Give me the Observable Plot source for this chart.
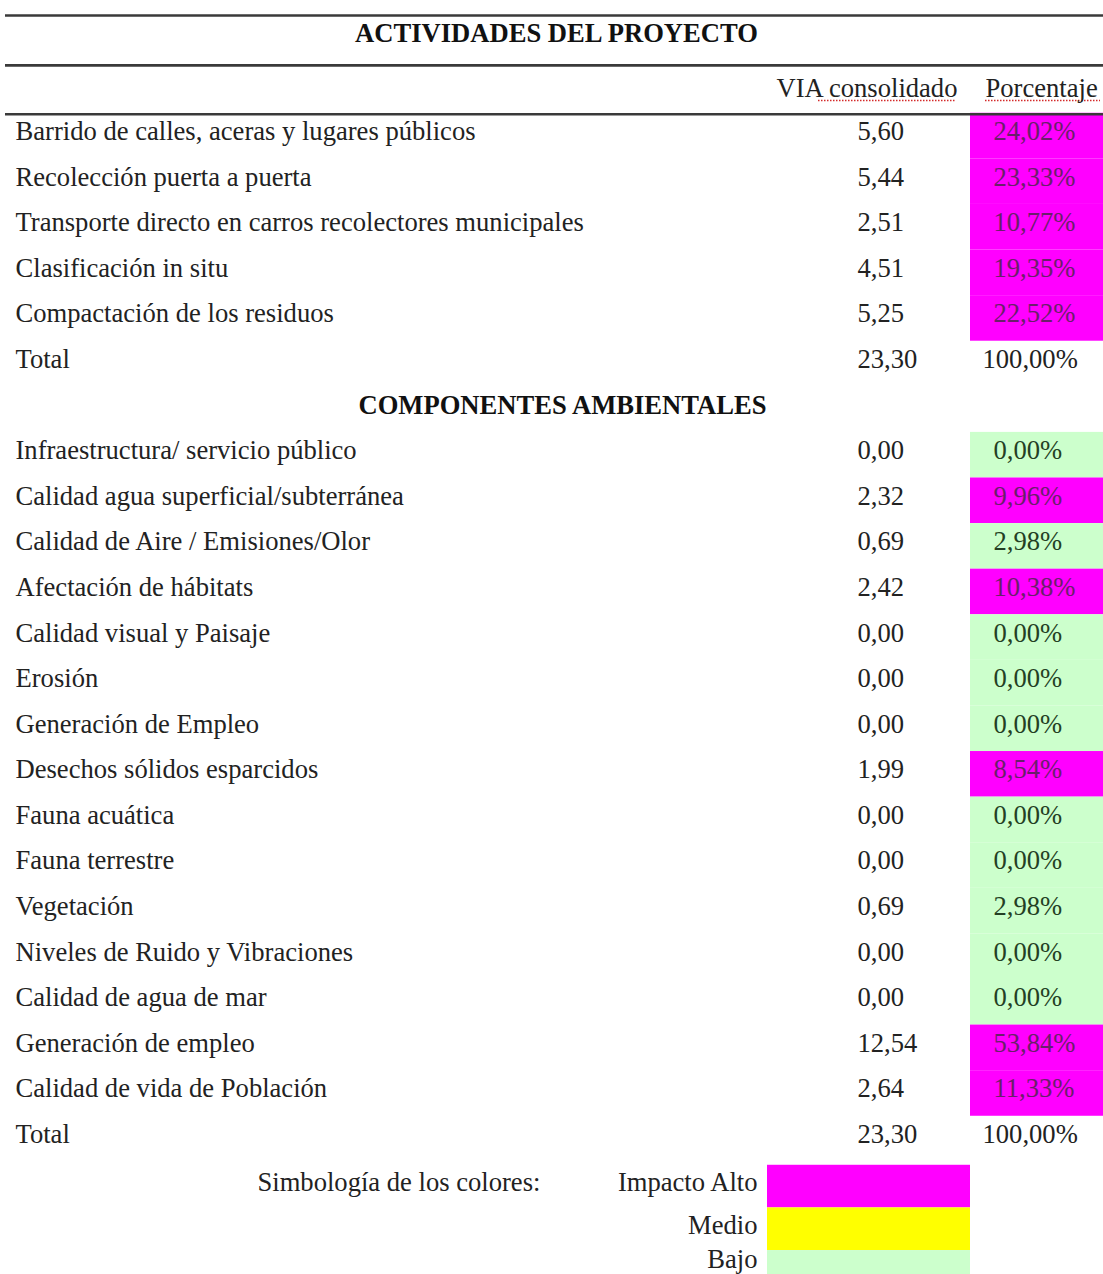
<!DOCTYPE html>
<html>
<head>
<meta charset="utf-8">
<script src="https://cdn.jsdelivr.net/npm/d3@7"></script>
<script src="https://cdn.jsdelivr.net/npm/@observablehq/plot@0.6"></script>
<style>
  html, body { margin: 0; padding: 0; background: #ffffff; }
  #chart svg { display: block; }
</style>
</head>
<body>
<div id="chart"></div>
<script>
// ---------- data ----------
const tituloActividades = "ACTIVIDADES DEL PROYECTO";
const tituloComponentes = "COMPONENTES AMBIENTALES";
const encabezados = ["VIA consolidado", "Porcentaje"];

const actividades = [
  "Barrido de calles, aceras y lugares públicos",
  "Recolección puerta a puerta",
  "Transporte directo en carros recolectores municipales",
  "Clasificación in situ",
  "Compactación de los residuos"
];
const viaActividades = [5.60, 5.44, 2.51, 4.51, 5.25];
const pctActividades = [24.02, 23.33, 10.77, 19.35, 22.52];
const totalActividades = [23.30, 100.00];

const componentes = [
  "Infraestructura/ servicio público",
  "Calidad agua superficial/subterránea",
  "Calidad de Aire / Emisiones/Olor",
  "Afectación de hábitats",
  "Calidad visual y Paisaje",
  "Erosión",
  "Generación de Empleo",
  "Desechos sólidos esparcidos",
  "Fauna acuática",
  "Fauna terrestre",
  "Vegetación",
  "Niveles de Ruido y Vibraciones",
  "Calidad de agua de mar",
  "Generación de empleo",
  "Calidad de vida de Población"
];
const viaComponentes = [0.00, 2.32, 0.69, 2.42, 0.00, 0.00, 0.00, 1.99, 0.00, 0.00, 0.69, 0.00, 0.00, 12.54, 2.64];
const pctComponentes = [0.00, 9.96, 2.98, 10.38, 0.00, 0.00, 0.00, 8.54, 0.00, 0.00, 2.98, 0.00, 0.00, 53.84, 11.33];
const totalComponentes = [23.30, 100.00];

const etiquetaTotal = "Total";
const tituloLeyenda = "Simbología de los colores:";
const nivelesLeyenda = ["Impacto Alto", "Medio", "Bajo"];
const coloresLeyenda = ["#ff00ff", "#ffff00", "#ccffcc"];

// ---------- table rows ----------
const fmt = v => v.toFixed(2).replace(".", ",");
const nivel = p => (p >= 5 ? "Impacto Alto" : "Bajo");
const colorDe = n => coloresLeyenda[nivelesLeyenda.indexOf(n)];

const filas = [];
actividades.forEach((a, i) => filas.push({k: filas.length, label: a, via: viaActividades[i], pct: pctActividades[i], tipo: "dato"}));
filas.push({k: filas.length, label: etiquetaTotal, via: totalActividades[0], pct: totalActividades[1], tipo: "total"});
filas.push({k: filas.length, label: tituloComponentes, tipo: "seccion"});
componentes.forEach((c, i) => filas.push({k: filas.length, label: c, via: viaComponentes[i], pct: pctComponentes[i], tipo: "dato"}));
filas.push({k: filas.length, label: etiquetaTotal, via: totalComponentes[0], pct: totalComponentes[1], tipo: "total"});

const datos = filas.filter(f => f.tipo === "dato");
const conValor = filas.filter(f => f.tipo !== "seccion");
const seccion = filas.filter(f => f.tipo === "seccion");

// layout (row units on y, px columns on x)
const FS = 26.6;
const colLabel = 15, colVia = 857, colPct = 993, colPctTotal = 982, cellX1 = 970, cellX2 = 1103;
const rowTitle = -2.15, rowHeader = -0.95;
const rules = [-2.545, -1.45, -0.38];
const legendTop = 22.675, legendStep = 0.935;

const leyenda = nivelesLeyenda.map((n, i) => ({n, i, fill: coloresLeyenda[i]}));
// text row for each legend entry (last one nudged up so it stays inside the picture)
const legendTextY = d => legendTop + legendStep * (d.i + 0.5) - 0.08 - (d.i === 2 ? 0.2 : 0);

const font = "'Liberation Serif', 'Times New Roman', serif";

const chart = Plot.plot({
  width: 1103,
  height: 1274,
  margin: 0,
  x: {domain: [0, 1103], range: [0, 1103], axis: null},
  y: {domain: [0, 22], range: [131, 1134], axis: null},
  style: {fontFamily: font, background: "#ffffff"},
  marks: [
    // coloured percentage cells
    Plot.rect(datos, {
      x1: () => cellX1, x2: () => cellX2,
      y1: d => d.k - 0.4, y2: d => d.k + 0.6,
      fill: d => colorDe(nivel(d.pct))
    }),
    // legend swatches
    Plot.rect(leyenda, {
      x1: () => 767, x2: () => 970,
      y1: d => legendTop + legendStep * d.i, y2: d => legendTop + legendStep * (d.i + 1),
      fill: "fill"
    }),
    // horizontal rules
    Plot.ruleY(rules, {x1: 5, x2: 1103, stroke: "#3a3a3a", strokeWidth: 2.6}),
    // red spell-check underlines in header
    Plot.ruleY([rowHeader + 0.27], {x1: 818, x2: 955, stroke: "#d42a2a", strokeWidth: 1.3, strokeDasharray: "1.5,1.5"}),
    Plot.ruleY([rowHeader + 0.27], {x1: 985, x2: 1100, stroke: "#d42a2a", strokeWidth: 1.3, strokeDasharray: "1.5,1.5"}),
    // title
    Plot.text([tituloActividades], {x: () => 556, y: () => rowTitle, text: d => d, fontSize: FS, fontWeight: "bold", fill: "#111"}),
    // header
    Plot.text([encabezados[0]], {x: () => 776, y: () => rowHeader, text: d => d, fontSize: FS, textAnchor: "start", fill: "#222"}),
    Plot.text([encabezados[1]], {x: () => 985, y: () => rowHeader, text: d => d, fontSize: FS, textAnchor: "start", fill: "#222"}),
    // section heading
    Plot.text(seccion, {x: () => 562, y: "k", text: "label", fontSize: FS, fontWeight: "bold", fill: "#111"}),
    // row labels
    Plot.text(conValor, {x: () => colLabel, y: "k", text: "label", fontSize: FS, textAnchor: "start", fill: "#222"}),
    // VIA values
    Plot.text(conValor, {x: () => colVia, y: "k", text: d => fmt(d.via), fontSize: FS, textAnchor: "start", fill: "#222"}),
    // percentages
    Plot.text(conValor, {
      x: d => (d.tipo === "total" ? colPctTotal : colPct), y: "k",
      text: d => fmt(d.pct) + "%", fontSize: FS, textAnchor: "start",
      fill: d => (d.tipo === "total" ? "#222" : (nivel(d.pct) === "Impacto Alto" ? "#6a1f6a" : "#243f24"))
    }),
    // legend text
    Plot.text([tituloLeyenda], {x: () => 257, y: () => legendTop + legendStep * 0.5 - 0.08, text: d => d, fontSize: FS, textAnchor: "start", fill: "#222"}),
    Plot.text(leyenda, {x: () => 757, y: legendTextY, text: "n", fontSize: FS, textAnchor: "end", fill: "#222"})
  ]
});

document.getElementById("chart").appendChild(chart);
</script>
</body>
</html>
